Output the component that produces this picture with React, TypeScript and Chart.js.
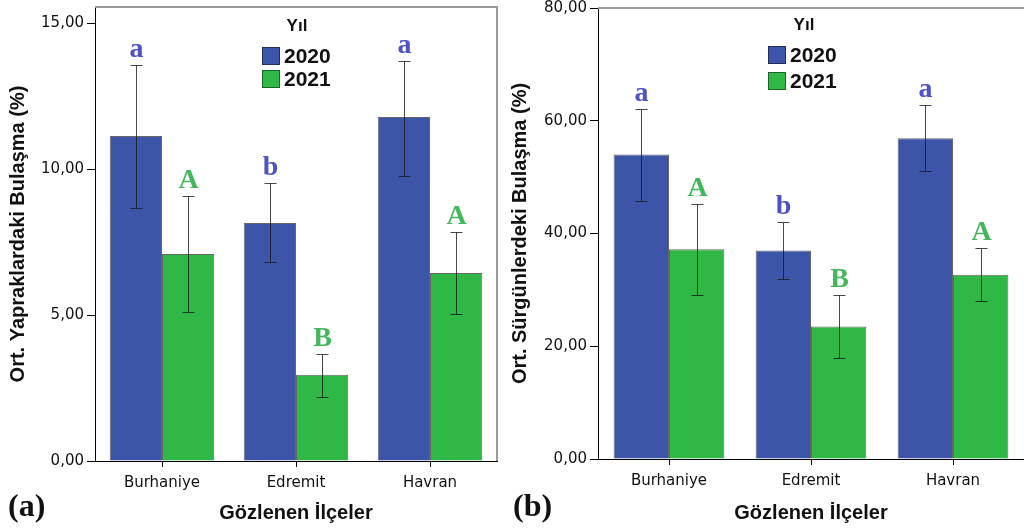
import React, { useEffect, useRef } from 'react';
import { Chart, registerables } from 'chart.js';

Chart.register(...registerables);

// ---------- shared ----------
const districts = ['Burhaniye', 'Edremit', 'Havran'];
const yearLabels = ['2020', '2021'];
const legendTitle = 'Yıl';
const xTitle = 'Gözlenen İlçeler';

// ---------- (a) leaves ----------
const leafTitle = 'Ort. Yapraklardaki Bulaşma (%)';
const leafMean2020 = [11.13, 8.15, 11.78];
const leafMean2021 = [7.09, 2.95, 6.44];
const leafLow2020 = [8.66, 6.8, 9.76];
const leafHigh2020 = [13.56, 9.52, 13.7];
const leafLow2021 = [5.1, 2.2, 5.03];
const leafHigh2021 = [9.08, 3.66, 7.84];
const leafLetters2020 = ['a', 'b', 'a'];
const leafLetters2021 = ['A', 'B', 'A'];
const leafTicks = [0, 5, 10, 15];
const leafAxisMax = 15.55;

// ---------- (b) shoots ----------
const shootTitle = 'Ort. Sürgünlerdeki Bulaşma (%)';
const shootMean2020 = [54.0, 37.0, 56.9];
const shootMean2021 = [37.2, 23.5, 32.7];
const shootLow2020 = [45.8, 32.0, 51.0];
const shootHigh2020 = [62.1, 42.0, 62.8];
const shootLow2021 = [29.1, 18.0, 28.0];
const shootHigh2021 = [45.3, 29.1, 37.5];
const shootLetters2020 = ['a', 'b', 'a'];
const shootLetters2021 = ['A', 'B', 'A'];
const shootTicks = [0, 20, 40, 60, 80];
const shootAxisMax = 80;

const BLUE = '#3d55a8';
const GREEN = '#2fb845';
const LOWER_COLOR = '#4e52c6';
const UPPER_COLOR = '#44b65c';
const SANS = '"Liberation Sans", Arial, sans-serif';
const TICK_FONT = '"DejaVu Sans", sans-serif';
const SERIF = '"Liberation Serif", "Times New Roman", serif';

const panels = [
  {
    tag: '(a)',
    canvasLeft: 0,
    canvasWidth: 505,
    yTitle: leafTitle,
    ticks: leafTicks,
    max: leafAxisMax,
    area: { left: 95, right: 497, top: 7, bottom: 461 },
    rightBorder: true,
    yTitlePad: 6,
    legend: { titleX: 297, titleY: 26, swatchX: 262, rows: [56, 79] },
    series: [
      { label: yearLabels[0], mean: leafMean2020, low: leafLow2020, high: leafHigh2020, letters: leafLetters2020, color: BLUE, letterColor: LOWER_COLOR },
      { label: yearLabels[1], mean: leafMean2021, low: leafLow2021, high: leafHigh2021, letters: leafLetters2021, color: GREEN, letterColor: UPPER_COLOR },
    ],
  },
  {
    tag: '(b)',
    canvasLeft: 505,
    canvasWidth: 519,
    yTitle: shootTitle,
    ticks: shootTicks,
    max: shootAxisMax,
    area: { left: 93, right: 519, top: 8, bottom: 459 },
    rightBorder: false,
    yTitlePad: 3,
    legend: { titleX: 299, titleY: 25, swatchX: 263, rows: [55, 81] },
    series: [
      { label: yearLabels[0], mean: shootMean2020, low: shootLow2020, high: shootHigh2020, letters: shootLetters2020, color: BLUE, letterColor: LOWER_COLOR },
      { label: yearLabels[1], mean: shootMean2021, low: shootLow2021, high: shootHigh2021, letters: shootLetters2021, color: GREEN, letterColor: UPPER_COLOR },
    ],
  },
];

const H = 530;

function Panel({ cfg }: { cfg: any }) {
  const ref = useRef<HTMLCanvasElement>(null);

  useEffect(() => {
    const c = cfg;
    const overlay = {
      id: 'overlay',
      beforeDatasetsDraw(chart: any) {
        const { ctx, chartArea: a } = chart;
        ctx.save();
        ctx.strokeStyle = '#9a9a9a';
        ctx.lineWidth = 2;
        ctx.beginPath();
        ctx.moveTo(a.left, a.top);
        ctx.lineTo(a.right, a.top);
        if (c.rightBorder) ctx.lineTo(a.right, a.bottom);
        ctx.stroke();
        ctx.restore();
      },
      afterDatasetsDraw(chart: any) {
        const { ctx } = chart;
        const ys = chart.scales.y;
        c.series.forEach((s: any, i: number) => {
          const meta = chart.getDatasetMeta(i);
          meta.data.forEach((el: any, j: number) => {
            const x = Math.round(el.x) + 0.5;
            const yh = Math.round(ys.getPixelForValue(s.high[j])) + 0.5;
            const yl = Math.round(ys.getPixelForValue(s.low[j])) + 0.5;
            ctx.save();
            ctx.strokeStyle = 'rgba(25,25,25,0.8)';
            ctx.lineWidth = 1;
            ctx.beginPath();
            ctx.moveTo(x, yh);
            ctx.lineTo(x, yl);
            ctx.moveTo(x - 6, yh);
            ctx.lineTo(x + 6, yh);
            ctx.moveTo(x - 6, yl);
            ctx.lineTo(x + 6, yl);
            ctx.stroke();
            ctx.font = `bold 28px ${SERIF}`;
            ctx.fillStyle = s.letterColor;
            ctx.textAlign = 'center';
            ctx.textBaseline = 'alphabetic';
            ctx.fillText(s.letters[j], x, yh - 9);
            ctx.restore();
          });
        });

        // legend
        const L = c.legend;
        ctx.save();
        ctx.fillStyle = '#111';
        ctx.font = `bold 17px ${SANS}`;
        ctx.textAlign = 'center';
        ctx.textBaseline = 'middle';
        ctx.fillText(legendTitle, L.titleX, L.titleY);
        c.series.forEach((s: any, i: number) => {
          const cy = L.rows[i];
          ctx.fillStyle = s.color;
          ctx.fillRect(L.swatchX, cy - 9, 18, 18);
          ctx.strokeStyle = 'rgba(0,0,0,0.45)';
          ctx.lineWidth = 1;
          ctx.strokeRect(L.swatchX + 0.5, cy - 8.5, 17, 17);
          ctx.fillStyle = '#111';
          ctx.font = `bold 21px ${SANS}`;
          ctx.textAlign = 'left';
          ctx.fillText(s.label, L.swatchX + 22, cy + 1);
        });
        // panel tag
        ctx.font = `bold 32px ${SERIF}`;
        ctx.textAlign = 'left';
        ctx.textBaseline = 'alphabetic';
        ctx.fillStyle = '#111';
        ctx.fillText(c.tag, 8, 516);
        ctx.restore();
      },
    };

    const chart = new Chart(ref.current as HTMLCanvasElement, {
      type: 'bar',
      data: {
        labels: districts,
        datasets: c.series.map((s: any) => ({
          label: s.label,
          data: s.mean,
          backgroundColor: s.color,
          borderColor: 'rgba(0,0,0,0.6)',
          borderWidth: 1,
          categoryPercentage: 0.78,
          barPercentage: 1.0,
        })),
      },
      options: {
        responsive: false,
        animation: false,
        events: [],
        layout: {
          padding: { left: 0, right: c.canvasWidth - c.area.right, top: c.area.top, bottom: 0 },
        },
        plugins: {
          legend: { display: false },
          tooltip: { enabled: false },
        },
        scales: {
          x: {
            afterFit: (s: any) => {
              s.height = H - c.area.bottom;
              s.paddingLeft = 0;
              s.paddingRight = 0;
            },
            grid: { display: true, drawOnChartArea: false, drawTicks: true, offset: false, tickLength: 6, color: '#000' },
            border: { display: true, color: '#000', width: 1 },
            ticks: { font: { family: TICK_FONT, size: 15 }, color: '#111', padding: 7, maxRotation: 0 },
            title: {
              display: true,
              text: xTitle,
              font: { family: SANS, size: 20, weight: 'bold' },
              color: '#111',
              padding: { top: 0, bottom: 5 },
            },
          },
          y: {
            min: 0,
            max: c.max,
            afterFit: (s: any) => {
              s.width = c.area.left;
              s.paddingTop = 0;
              s.paddingBottom = 0;
            },
            afterBuildTicks: (s: any) => {
              s.ticks = c.ticks.map((v: number) => ({ value: v }));
            },
            grid: { display: true, drawOnChartArea: false, drawTicks: true, tickLength: 8, color: '#000' },
            border: { display: true, color: '#000', width: 1 },
            ticks: {
              font: { family: TICK_FONT, size: 15 },
              color: '#111',
              padding: 3,
              callback: (v: any) => Number(v).toFixed(2).replace('.', ','),
            },
            title: {
              display: true,
              text: c.yTitle,
              font: { family: SANS, size: 20, weight: 'bold' },
              color: '#111',
              padding: { top: c.yTitlePad, bottom: 0 },
            },
          },
        },
      },
      plugins: [overlay],
    } as any);
    return () => chart.destroy();
  }, [cfg]);

  return (
    <canvas
      ref={ref}
      width={cfg.canvasWidth}
      height={H}
      style={{ position: 'absolute', left: cfg.canvasLeft, top: 0, width: cfg.canvasWidth, height: H }}
    />
  );
}

export default function App() {
  return (
    <div style={{ position: 'absolute', left: 0, top: 0, width: 1024, height: H, background: '#fff', overflow: 'hidden' }}>
      {panels.map((p) => (
        <Panel key={p.tag} cfg={p} />
      ))}
    </div>
  );
}
